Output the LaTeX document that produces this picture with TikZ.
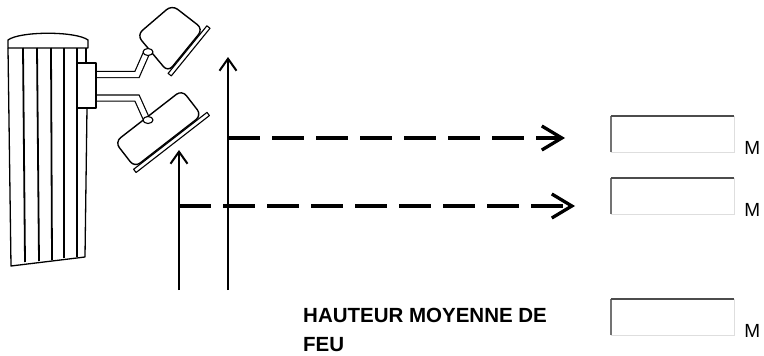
\documentclass[tikz,border=0pt]{standalone}
\usepackage{fontspec}
\setmainfont{Liberation Sans}
\usetikzlibrary{arrows.meta}

\begin{document}
\begin{tikzpicture}[x=1pt,y=-1pt,
	pole/.style={line width=1.3pt, line join=round},
	stripe/.style={line width=1.8pt},
	arm/.style={line width=1.2pt, double=white, double distance=5pt},
	lamp/.style={line width=1.4pt, fill=white, rounded corners=7pt},
	lens/.style={line width=1.1pt, fill=white, line join=round},
	knob/.style={line width=1.1pt, fill=white},
	ray/.style={line width=2pt, -{Straight Barb[length=12pt,width=17pt]}},
	beam/.style={line width=3.3pt, dash pattern=on 32pt off 12pt, -{Straight Barb[length=20pt,width=24pt]}},
	field/.style={minimum width=123pt, minimum height=36pt, inner sep=0pt, fill=white},
	unit/.style={anchor=base west, inner sep=0pt, font=\fontsize{19}{22}\selectfont},
	caption/.style={anchor=base west, inner sep=0pt, align=left, font=\bfseries\fontsize{20.5}{29}\selectfont}]

	\useasboundingbox (0,0) rectangle (764,356);

	% the pole
	\draw [pole] (8,48) -- (8,40) .. controls (20,31) and (76,31) .. (88,40) -- (88,48) -- cycle;
	\draw [pole] (8,48) -- (11,266) -- (85,257) -- (87,108);
	\draw [pole] (86,48) -- (86,63);
	\foreach \xa/\xb/\yb in {23/25/262, 37/39/261, 51/52/260, 64/64/258, 77/77/257} {
		\draw [stripe] (\xa,48) -- (\xb,\yb);
	}

	% bracket and arms
	\draw [arm] (96,74.5) -- (137,74.5) -- (146,54);
	\draw [arm] (96,98) -- (137,98) -- (146,118);
	\draw [pole, fill=white] (77,63) rectangle (96,108);

	% upper lamp
	\draw [lamp] (137,35) -- (172,5) -- (203,29) -- (168,72) -- cycle;
	\draw [lens] (168.1,73.4) -- (206.9,25.8) -- (210,28.3) -- (171.3,75.9) -- cycle;
	\draw [knob] (148,52) ellipse (5 and 3.5);

	% lower lamp
	\draw [lamp] (115,142) -- (182,90) -- (201.6,115.3) -- (134.6,167.3) -- cycle;
	\draw [lens] (133.6,169.3) -- (207,112.4) -- (209.4,115.6) -- (136.1,172.5) -- cycle;
	\draw [knob] (148,120) ellipse (5 and 3.5);

	% rays from the ground
	\coordinate (foot1) at (179,290);
	\coordinate (head1) at (179,150);
	\coordinate (foot2) at (228,290);
	\coordinate (head2) at (228,57);
	\draw [ray] (foot1) -- (head1);
	\draw [ray] (foot2) -- (head2);

	% input fields
	\foreach \n/\y in {1/134, 2/196, 3/317} {
		\node [field] (field\n) at (672.5,\y) {};
		\draw [line width=1.4pt, black!13] (field\n.south west) -- (field\n.south east) -- (field\n.north east);
		\draw [line width=2.2pt, black!55] (field\n.south west) -- (field\n.north west);
		\draw [line width=2.2pt, black!70] (field\n.north west) -- (field\n.north east);
		\node [unit] (unit\n) at ([xshift=10pt,yshift=-2pt]field\n.south east) {M};
	}

	% horizontal beams
	\coordinate (start1) at (foot2 |- 0,138);
	\coordinate (end1) at (565,138);
	\coordinate (start2) at (foot1 |- 0,206);
	\coordinate (end2) at (575,206);
	\draw [beam] (start1) -- (end1);
	\draw [beam] (start2) -- (end2);

	\node [caption] (hauteur) at (303,351) {HAUTEUR MOYENNE DE\\FEU};

\end{tikzpicture}
\end{document}
